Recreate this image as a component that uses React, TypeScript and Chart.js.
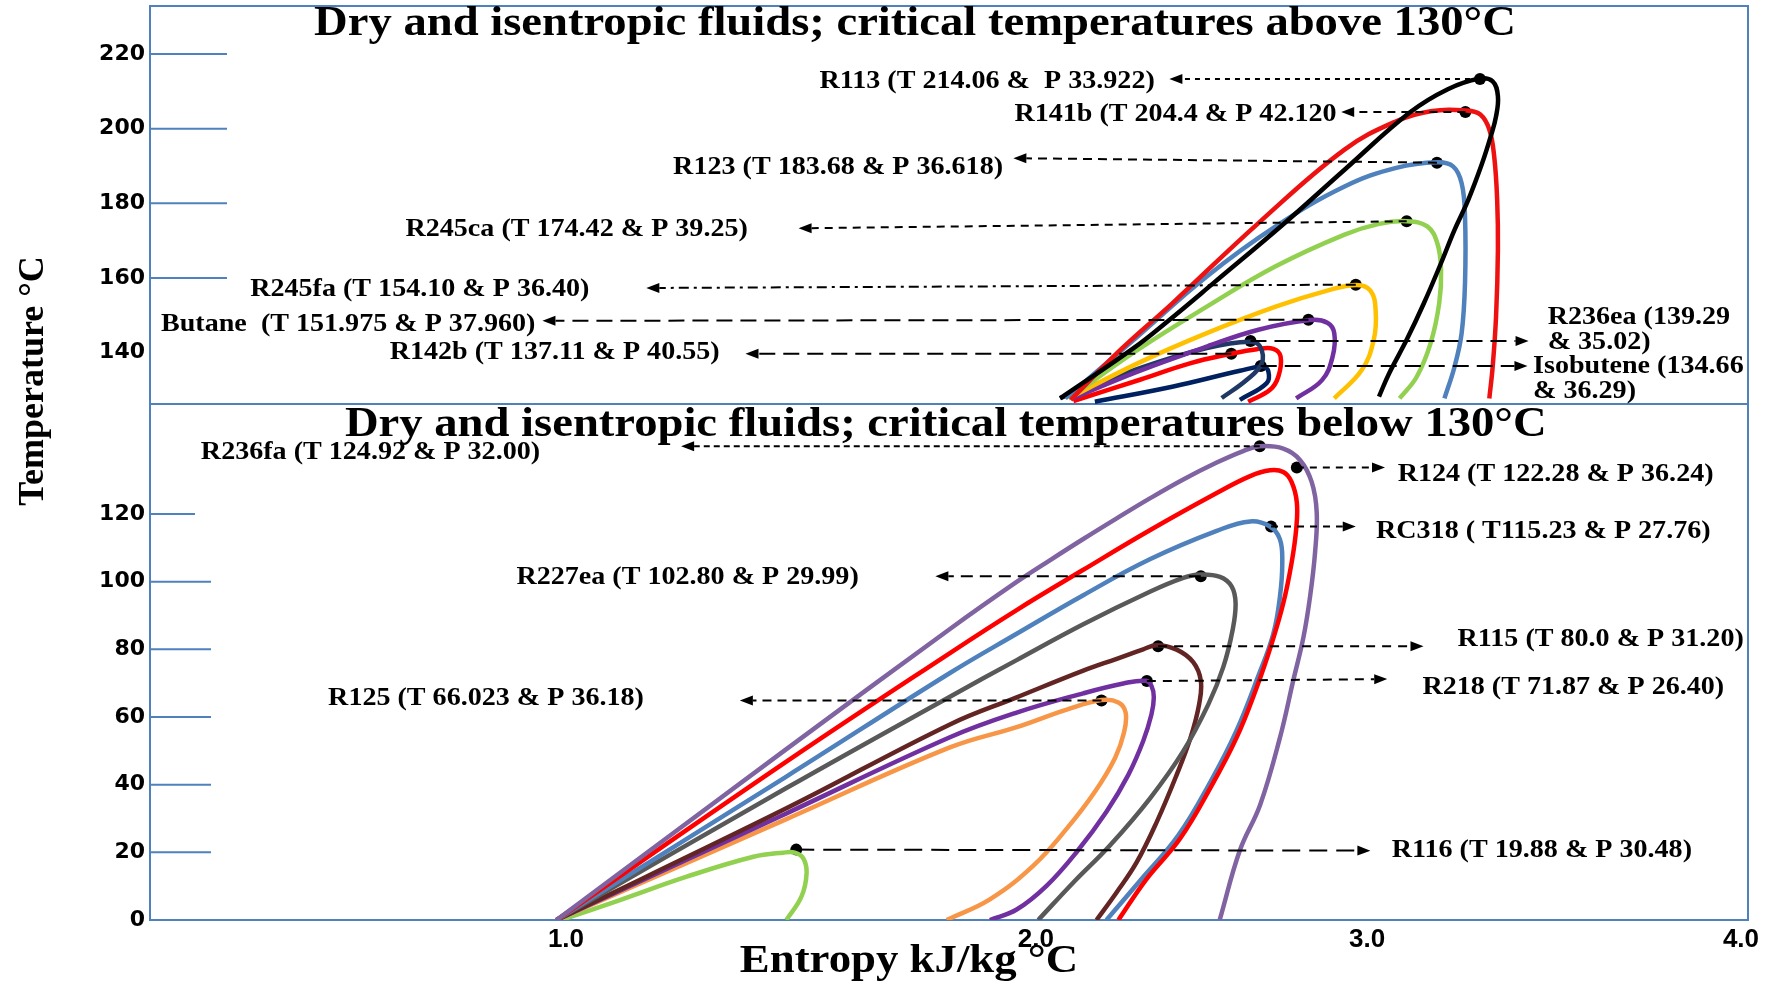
import React, { useEffect, useRef } from 'react';
import { Chart, registerables, LinearScale } from 'chart.js';

Chart.register(...registerables);

type Pt = [number, number];

// ---------- axes ----------
// entropy tick labels, and where the original figure printed each one (fraction of the axis length)
const xTickValues = [1, 2, 3, 4];
const xTickFractions = [0.2603, 0.5544, 0.7616, 0.9956];

const upperTickValues = [140, 160, 180, 200, 220];
const upperTickMarks = [160, 180, 200, 220];
const lowerTickValues = [0, 20, 40, 60, 80, 100, 120];
const lowerTickMarks = [20, 40, 60, 80, 100, 120];

// ---------- upper panel: critical temperatures above 130 °C  [entropy, temperature] ----------
const r113Curve: Pt[] = [[2.073, 127.7], [2.297, 141.3], [2.401, 148.6], [2.536, 158.6], [2.755, 175.0], [2.932, 189.0], [3.115, 204.4], [3.216, 210.6], [3.299, 213.4], [3.336, 212.7], [3.350, 208.7], [3.345, 203.3], [3.331, 198.0], [3.308, 190.8], [3.271, 181.0], [3.234, 172.9], [3.198, 164.0], [3.152, 153.2], [3.106, 143.4], [3.059, 134.4], [3.032, 128.2]];
const r141bCurve: Pt[] = [[2.105, 127.3], [2.255, 140.7], [2.412, 153.2], [2.672, 174.7], [2.932, 194.4], [3.078, 202.0], [3.170, 204.7], [3.267, 204.9], [3.303, 203.8], [3.327, 199.8], [3.340, 192.6], [3.348, 181.0], [3.350, 167.5], [3.345, 149.6], [3.336, 136.2], [3.327, 127.7]];
const r123Curve: Pt[] = [[2.089, 127.7], [2.307, 144.3], [2.516, 160.4], [2.724, 173.8], [2.932, 184.5], [3.078, 189.5], [3.188, 191.0], [3.230, 189.9], [3.253, 185.4], [3.262, 176.5], [3.262, 158.6], [3.253, 145.2], [3.234, 136.2], [3.207, 127.7]];
const r245caCurve: Pt[] = [[2.099, 127.7], [2.307, 140.7], [2.516, 152.3], [2.724, 163.1], [2.932, 171.6], [3.032, 174.5], [3.106, 175.2], [3.161, 173.8], [3.188, 169.3], [3.198, 162.2], [3.193, 153.2], [3.170, 142.5], [3.133, 133.5], [3.087, 127.7]];
const r245faCurve: Pt[] = [[2.099, 127.7], [2.307, 137.1], [2.516, 145.2], [2.724, 152.3], [2.880, 156.6], [2.968, 158.1], [3.009, 156.6], [3.023, 151.4], [3.018, 143.4], [2.984, 135.3], [2.901, 127.7]];
const butaneCurve: Pt[] = [[2.110, 127.7], [2.307, 134.9], [2.516, 141.6], [2.672, 146.1], [2.828, 148.7], [2.880, 148.0], [2.901, 145.2], [2.896, 138.9], [2.864, 132.6], [2.786, 127.7]];
const r236eaCurve: Pt[] = [[2.073, 127.8], [2.314, 135.8], [2.516, 141.2], [2.647, 142.9], [2.677, 141.6], [2.682, 137.1], [2.637, 132.7], [2.561, 127.8]];
const r142bCurve: Pt[] = [[2.113, 127.0], [2.314, 132.7], [2.465, 137.1], [2.586, 139.6], [2.667, 140.9], [2.717, 141.0], [2.739, 138.9], [2.732, 133.5], [2.707, 130.0], [2.641, 126.8]];
const isobuteneCurve: Pt[] = [[2.178, 126.8], [2.415, 130.9], [2.616, 135.1], [2.685, 136.2], [2.702, 134.9], [2.697, 131.8], [2.616, 127.3]];

// critical points drawn as dots (R113, R141b, R123, R245ca, R245fa, Butane, R236ea, R142b, Isobutene)
const upperCritical: Pt[] = [[3.302, 213.3], [3.263, 204.5], [3.187, 190.9], [3.106, 175.2], [2.966, 158.2], [2.823, 148.8], [2.648, 143.1], [2.590, 139.7], [2.679, 136.4]];

// ---------- lower panel: critical temperatures below 130 °C ----------
const r236faCurve: Pt[] = [[0.98, 0], [1.469, 50.5], [1.817, 86.0], [1.959, 99.9], [2.042, 106.3], [2.143, 112.6], [2.244, 118.7], [2.344, 124.6], [2.445, 130.2], [2.546, 135.2], [2.626, 138.6], [2.675, 140.0], [2.747, 139.3], [2.798, 135.9], [2.833, 129.4], [2.848, 120.5], [2.843, 108.6], [2.828, 95.6], [2.808, 83.6], [2.777, 70.7], [2.737, 53.9], [2.677, 34.0], [2.616, 20.6], [2.555, 0]];
const r124Curve: Pt[] = [[0.98, 0], [1.469, 46.8], [1.817, 78.9], [1.959, 91.6], [2.143, 103.5], [2.344, 115.2], [2.546, 126.2], [2.647, 131.2], [2.707, 132.9], [2.747, 132.4], [2.772, 129.5], [2.788, 123.4], [2.786, 115.5], [2.772, 105.5], [2.747, 93.6], [2.712, 81.7], [2.667, 68.8], [2.606, 53.9], [2.526, 38.9], [2.435, 24.0], [2.334, 12.1], [2.249, 0]];
const rc318Curve: Pt[] = [[0.98, 0], [1.469, 42.4], [1.817, 73.0], [1.959, 84.6], [2.143, 96.0], [2.344, 106.6], [2.546, 115.0], [2.647, 117.8], [2.707, 116.3], [2.737, 112.5], [2.744, 105.5], [2.737, 95.6], [2.717, 84.6], [2.670, 71.7], [2.605, 55.8], [2.528, 41.0], [2.430, 25.0], [2.310, 11.1], [2.213, 0]];
const r227eaCurve: Pt[] = [[0.98, 0], [1.469, 39.0], [1.817, 66.0], [1.959, 76.8], [2.143, 87.4], [2.344, 97.0], [2.445, 101.1], [2.495, 102.1], [2.556, 101.4], [2.591, 98.6], [2.603, 93.6], [2.594, 85.7], [2.566, 74.8], [2.521, 63.8], [2.445, 49.9], [2.344, 35.9], [2.224, 22.1], [2.113, 11.1], [2.007, 0]];
const r115Curve: Pt[] = [[0.98, 0], [1.469, 33.0], [1.817, 57.8], [1.959, 65.8], [2.143, 73.7], [2.244, 77.2], [2.324, 80.0], [2.365, 81.2], [2.425, 79.9], [2.475, 76.2], [2.498, 70.7], [2.493, 63.8], [2.467, 53.9], [2.425, 42.9], [2.365, 29.0], [2.304, 17.0], [2.244, 8.2], [2.183, 0]];
const r218Curve: Pt[] = [[0.98, 0], [1.469, 31.5], [1.817, 54.0], [1.959, 61.3], [2.143, 67.0], [2.264, 69.9], [2.332, 70.7], [2.349, 69.2], [2.356, 65.8], [2.349, 60.8], [2.324, 52.9], [2.279, 42.9], [2.213, 32.0], [2.123, 20.1], [2.032, 10.1], [1.959, 3.1], [1.902, 0]];
const r125Curve: Pt[] = [[0.98, 0], [1.469, 29.8], [1.817, 51.0], [1.959, 57.0], [2.093, 62.2], [2.198, 65.0], [2.249, 64.3], [2.271, 61.3], [2.266, 55.4], [2.239, 47.9], [2.178, 37.9], [2.093, 27.0], [1.994, 16.0], [1.902, 6.1], [1.81, 0]];
const r116Curve: Pt[] = [[0.99, 0], [1.115, 5.9], [1.257, 12.8], [1.399, 18.7], [1.462, 19.9], [1.487, 19.9], [1.505, 18.2], [1.512, 13.8], [1.501, 6.9], [1.469, 0]];

// (R236fa, R124, RC318, R227ea, R115, R218, R125, R116)
const lowerCritical: Pt[] = [[2.676, 140.0], [2.788, 133.7], [2.710, 116.3], [2.498, 101.6], [2.369, 80.9], [2.335, 70.6], [2.198, 64.9], [1.490, 20.8]];

// ---------- series styling ----------
const curveSeries = [
  { label: 'R113', axis: 'yHigh', color: '#000000', pts: r113Curve },
  { label: 'R141b', axis: 'yHigh', color: '#ee1111', pts: r141bCurve },
  { label: 'R123', axis: 'yHigh', color: '#4f81bd', pts: r123Curve },
  { label: 'R245ca', axis: 'yHigh', color: '#92d050', pts: r245caCurve },
  { label: 'R245fa', axis: 'yHigh', color: '#ffc000', pts: r245faCurve },
  { label: 'Butane', axis: 'yHigh', color: '#7030a0', pts: butaneCurve },
  { label: 'R236ea', axis: 'yHigh', color: '#1f3864', pts: r236eaCurve },
  { label: 'R142b', axis: 'yHigh', color: '#ff0000', pts: r142bCurve },
  { label: 'Isobutene', axis: 'yHigh', color: '#002060', pts: isobuteneCurve },
  { label: 'R236fa', axis: 'yLow', color: '#8064a2', pts: r236faCurve },
  { label: 'R124', axis: 'yLow', color: '#ff0000', pts: r124Curve },
  { label: 'RC318', axis: 'yLow', color: '#4f81bd', pts: rc318Curve },
  { label: 'R227ea', axis: 'yLow', color: '#595959', pts: r227eaCurve },
  { label: 'R115', axis: 'yLow', color: '#632523', pts: r115Curve },
  { label: 'R218', axis: 'yLow', color: '#7030a0', pts: r218Curve },
  { label: 'R125', axis: 'yLow', color: '#f79646', pts: r125Curve },
  { label: 'R116', axis: 'yLow', color: '#92d050', pts: r116Curve },
];

// ---------- callouts (layout: arrow tip and label anchor, in axis units) ----------
type Callout = { axis: 'yHigh' | 'yLow'; dot: number; tip: Pt; at: Pt; align: 'left' | 'right'; lines: string[]; dash: number[] };
const callouts: Callout[] = [
  { axis: 'yHigh', dot: 0, tip: [2.403, 213.3], at: [2.359, 212.7], align: 'right', lines: ['R113 (T 214.06 &  P 33.922)'], dash: [5, 5] },
  { axis: 'yHigh', dot: 1, tip: [2.922, 204.5], at: [2.908, 203.9], align: 'right', lines: ['R141b (T 204.4 & P 42.120'], dash: [8, 6] },
  { axis: 'yHigh', dot: 2, tip: [1.952, 192.1], at: [1.930, 189.7], align: 'right', lines: ['R123 (T 183.68 & P 36.618)'], dash: [9, 6] },
  { axis: 'yHigh', dot: 3, tip: [1.495, 173.3], at: [1.387, 173.0], align: 'right', lines: ['R245ca (T 174.42 & P 39.25)'], dash: [8, 6] },
  { axis: 'yHigh', dot: 4, tip: [1.171, 157.3], at: [1.050, 157.0], align: 'right', lines: ['R245fa (T 154.10 & P 36.40)'], dash: [10, 5, 3, 5] },
  { axis: 'yHigh', dot: 5, tip: [0.950, 148.5], at: [0.935, 147.6], align: 'right', lines: ['Butane  (T 151.975 & P 37.960)'], dash: [16, 8] },
  { axis: 'yHigh', dot: 6, tip: [3.432, 143.1], at: [3.483, 149.4], align: 'left', lines: ['R236ea (139.29', '& 35.02)'], dash: [16, 8] },
  { axis: 'yHigh', dot: 7, tip: [1.382, 139.7], at: [1.327, 140.0], align: 'right', lines: ['R142b (T 137.11 & P 40.55)'], dash: [16, 8] },
  { axis: 'yHigh', dot: 8, tip: [3.429, 136.4], at: [3.444, 136.4], align: 'left', lines: ['Isobutene (134.66', '& 36.29)'], dash: [16, 8] },
  { axis: 'yLow', dot: 0, tip: [1.245, 140.0], at: [0.945, 138.3], align: 'right', lines: ['R236fa (T 124.92 & P 32.00)'], dash: [6, 4] },
  { axis: 'yLow', dot: 1, tip: [3.048, 133.7], at: [3.082, 131.7], align: 'left', lines: ['R124 (T 122.28 & P 36.24)'], dash: [7, 6] },
  { axis: 'yLow', dot: 2, tip: [2.966, 116.3], at: [3.024, 115.0], align: 'left', lines: ['RC318 ( T115.23 & P 27.76)'], dash: [7, 6] },
  { axis: 'yLow', dot: 3, tip: [1.786, 101.6], at: [1.623, 101.3], align: 'right', lines: ['R227ea (T 102.80 & P 29.99)'], dash: [12, 7] },
  { axis: 'yLow', dot: 4, tip: [3.151, 80.9], at: [3.242, 82.9], align: 'left', lines: ['R115 (T 80.0 & P 31.20)'], dash: [9, 7] },
  { axis: 'yLow', dot: 5, tip: [3.054, 71.2], at: [3.148, 68.9], align: 'left', lines: ['R218 (T 71.87 & P 26.40)'], dash: [9, 7] },
  { axis: 'yLow', dot: 6, tip: [1.370, 64.9], at: [1.166, 65.5], align: 'right', lines: ['R125 (T 66.023 & P 36.18)'], dash: [9, 6] },
  { axis: 'yLow', dot: 7, tip: [3.009, 20.5], at: [3.066, 20.5], align: 'left', lines: ['R116 (T 19.88 & P 30.48)'], dash: [18, 9] },
];

const upperTitle = 'Dry and isentropic fluids; critical temperatures above 130°C';
const lowerTitle = 'Dry and isentropic fluids; critical temperatures below 130°C';
const yTitle = 'Temperature °C';
const xTitle = 'Entropy kJ/kg °C';

const AXIS_BLUE = '#4f81bd';
const SERIF = '"Liberation Serif", "Times New Roman", serif';

// ---------- piecewise entropy scale (the original axis labels are unevenly spaced) ----------
function interp(v: number, from: number[], to: number[]): number {
  const n = from.length;
  let i = 0;
  if (v >= from[n - 1]) i = n - 2;
  else if (v > from[0]) { while (v > from[i + 1]) i++; }
  const t = (v - from[i]) / (from[i + 1] - from[i]);
  return to[i] + t * (to[i + 1] - to[i]);
}

class EntropyScale extends LinearScale {
  static id = 'entropy';
  static defaults = {};
  getPixelForValue(value: number) {
    return (this as any).getPixelForDecimal(interp(value, xTickValues, xTickFractions));
  }
  getValueForPixel(pixel: number) {
    return interp((this as any).getDecimalForPixel(pixel), xTickFractions, xTickValues);
  }
}
Chart.register(EntropyScale as any);

function drawText(ctx: CanvasRenderingContext2D, text: string, x: number, y: number, font: string, align: CanvasTextAlign, stretch: number) {
  ctx.save();
  ctx.font = font;
  ctx.fillStyle = '#000';
  ctx.textBaseline = 'middle';
  ctx.textAlign = align;
  ctx.translate(x, y);
  ctx.scale(stretch, 1);
  ctx.fillText(text, 0, 0);
  ctx.restore();
}

function drawArrow(ctx: CanvasRenderingContext2D, x0: number, y0: number, x1: number, y1: number, dash: number[]) {
  const ang = Math.atan2(y1 - y0, x1 - x0);
  const head = 13, half = 5;
  const bx = x1 - head * Math.cos(ang), by = y1 - head * Math.sin(ang);
  ctx.save();
  ctx.strokeStyle = '#000';
  ctx.fillStyle = '#000';
  ctx.lineWidth = 2;
  ctx.setLineDash(dash);
  ctx.beginPath();
  ctx.moveTo(x0, y0);
  ctx.lineTo(bx, by);
  ctx.stroke();
  ctx.setLineDash([]);
  ctx.beginPath();
  ctx.moveTo(x1, y1);
  ctx.lineTo(bx + half * Math.sin(ang), by - half * Math.cos(ang));
  ctx.lineTo(bx - half * Math.sin(ang), by + half * Math.cos(ang));
  ctx.closePath();
  ctx.fill();
  ctx.restore();
}

const decorPlugin = {
  id: 'decor',
  beforeDatasetsDraw(chart: any) {
    const { ctx, chartArea: a, scales } = chart;
    const hi = scales.yHigh, lo = scales.yLow;
    ctx.save();
    ctx.strokeStyle = AXIS_BLUE;
    ctx.lineWidth = 2;
    ctx.strokeRect(a.left, a.top, a.right - a.left, a.bottom - a.top);
    ctx.beginPath();
    ctx.moveTo(a.left, hi.bottom);
    ctx.lineTo(a.right, hi.bottom);
    ctx.stroke();
    ctx.beginPath();
    upperTickMarks.forEach((v) => {
      const y = hi.getPixelForValue(v);
      ctx.moveTo(a.left, y);
      ctx.lineTo(a.left + 77, y);
    });
    lowerTickMarks.forEach((v) => {
      const y = lo.getPixelForValue(v);
      ctx.moveTo(a.left, y);
      ctx.lineTo(a.left + (v === 120 ? 45 : 61), y);
    });
    ctx.stroke();
    ctx.restore();
  },
  afterDatasetsDraw(chart: any) {
    const { ctx, chartArea: a, scales } = chart;
    const x = scales.x;
    const w = a.right - a.left;
    callouts.forEach((c) => {
      const ys = scales[c.axis];
      const dot = (c.axis === 'yHigh' ? upperCritical : lowerCritical)[c.dot];
      drawArrow(ctx, x.getPixelForValue(dot[0]), ys.getPixelForValue(dot[1]), x.getPixelForValue(c.tip[0]), ys.getPixelForValue(c.tip[1]), c.dash);
      const lx = x.getPixelForValue(c.at[0]);
      const ly = ys.getPixelForValue(c.at[1]);
      c.lines.forEach((line, i) => {
        drawText(ctx, line, lx, ly + i * 25, `bold 26px ${SERIF}`, c.align, 1.08);
      });
    });
    drawText(ctx, upperTitle, a.left + 0.4787 * w, scales.yHigh.top + 18, `bold 42px ${SERIF}`, 'center', 1.11);
    drawText(ctx, lowerTitle, a.left + 0.498 * w, scales.yLow.top + 21, `bold 42px ${SERIF}`, 'center', 1.11);
  },
  afterDraw(chart: any) {
    const { ctx } = chart;
    ctx.save();
    ctx.translate(34, 381);
    ctx.rotate(-Math.PI / 2);
    drawText(ctx, yTitle, 0, 0, `bold 36px ${SERIF}`, 'center', 1);
    ctx.restore();
    drawText(ctx, xTitle, 909, 962, `bold 40px ${SERIF}`, 'center', 1.12);
  },
};

export default function App() {
  const ref = useRef<HTMLCanvasElement | null>(null);
  useEffect(() => {
    if (!ref.current) return;
    const datasets: any[] = curveSeries.map((s) => ({
      type: 'line',
      label: s.label,
      data: s.pts.map(([sx, t]) => ({ x: sx, y: t })),
      xAxisID: 'x',
      yAxisID: s.axis,
      borderColor: s.color,
      backgroundColor: s.color,
      borderWidth: 4.5,
      pointRadius: 0,
      tension: 0.4,
      fill: false,
    }));
    datasets.push({
      type: 'line', label: 'critical (above 130 °C)', showLine: false,
      data: upperCritical.map(([sx, t]) => ({ x: sx, y: t })),
      xAxisID: 'x', yAxisID: 'yHigh', pointRadius: 6, pointBackgroundColor: '#000', pointBorderWidth: 0,
    });
    datasets.push({
      type: 'line', label: 'critical (below 130 °C)', showLine: false,
      data: lowerCritical.map(([sx, t]) => ({ x: sx, y: t })),
      xAxisID: 'x', yAxisID: 'yLow', pointRadius: 6, pointBackgroundColor: '#000', pointBorderWidth: 0,
    });

    const yTickFont = { family: '"DejaVu Sans", Verdana, sans-serif', weight: 'bold' as const, size: 22 };
    const fitY = (s: any) => { s.width = 150; s.paddingTop = 0; s.paddingBottom = 0; };
    const chart = new Chart(ref.current, {
      type: 'line',
      data: { datasets },
      plugins: [decorPlugin],
      options: {
        animation: false,
        responsive: false,
        events: [],
        layout: { padding: { top: 6, right: 23, bottom: 0, left: 0 } },
        plugins: { legend: { display: false }, tooltip: { enabled: false } },
        scales: {
          x: {
            type: 'entropy' as any,
            position: 'bottom',
            min: 0.1,
            max: 4.05,
            grid: { display: false, drawTicks: false },
            border: { display: false },
            afterBuildTicks: (s: any) => { s.ticks = xTickValues.map((v) => ({ value: v })); },
            afterFit: (s: any) => { s.height = 65; s.paddingLeft = 0; s.paddingRight = 0; },
            ticks: {
              autoSkip: false, maxRotation: 0, padding: 4, color: '#000',
              font: { family: '"Liberation Sans Narrow", "Liberation Sans", sans-serif', weight: 'bold', size: 26 },
              callback: (v: any) => Number(v).toFixed(1),
            },
          } as any,
          yLow: {
            type: 'linear', position: 'left', stack: 'panels', stackWeight: 516, weight: 0,
            min: 0, max: 152.5,
            grid: { display: false, drawTicks: false },
            border: { display: false },
            afterBuildTicks: (s: any) => { s.ticks = lowerTickValues.map((v) => ({ value: v })); },
            afterFit: fitY,
            ticks: { autoSkip: false, padding: 5, color: '#000', font: yTickFont, callback: (v: any) => String(v) },
          } as any,
          yHigh: {
            type: 'linear', position: 'left', stack: 'panels', stackWeight: 398, weight: 1,
            min: 126.2, max: 232.9,
            grid: { display: false, drawTicks: false },
            border: { display: false },
            afterBuildTicks: (s: any) => { s.ticks = upperTickValues.map((v) => ({ value: v })); },
            afterFit: fitY,
            ticks: { autoSkip: false, padding: 5, color: '#000', font: yTickFont, callback: (v: any) => String(v) },
          } as any,
        },
      } as any,
    });
    return () => chart.destroy();
  }, []);

  return (
    <div style={{ position: 'fixed', left: 0, top: 0, width: 1771, height: 985, background: '#fff' }}>
      <canvas ref={ref} width={1771} height={985} style={{ display: 'block' }} />
    </div>
  );
}
